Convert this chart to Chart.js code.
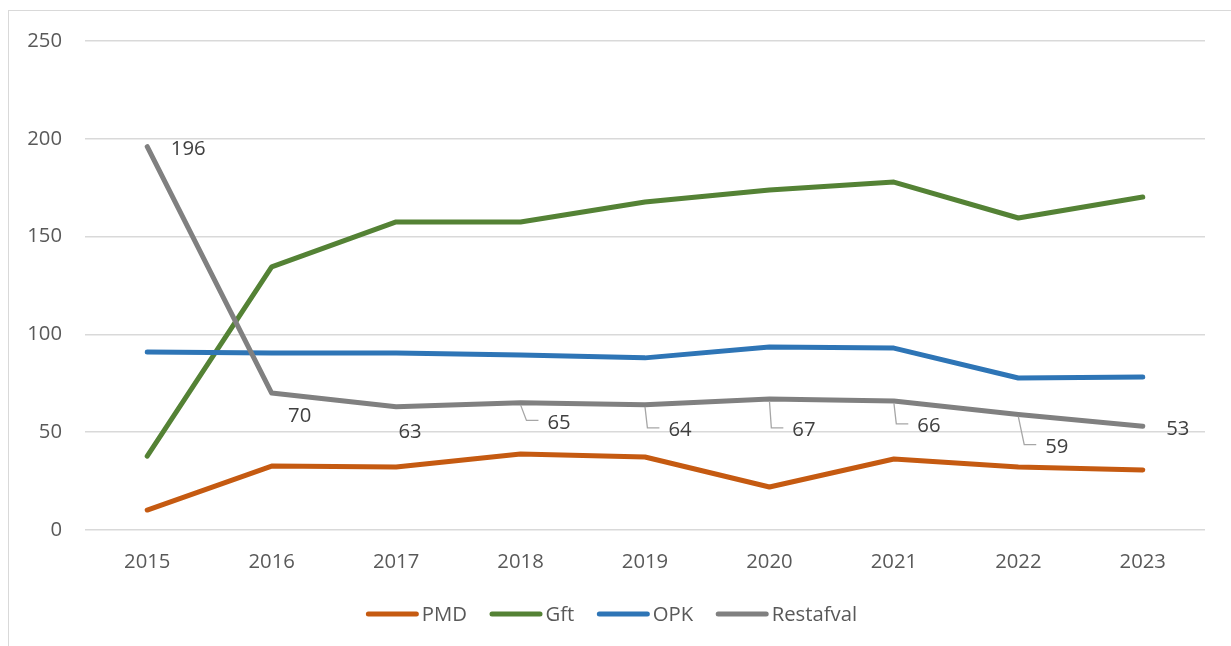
<!DOCTYPE html>
<html><head><meta charset="utf-8">
<script src="https://cdn.jsdelivr.net/npm/chart.js@4/dist/chart.umd.min.js"></script>
<style>html,body{margin:0;padding:0;background:#fff;} #wrap{width:1231px;height:646px;position:relative;}</style>
</head><body><div id="wrap"><canvas id="c"></canvas></div>
<script>
const categories = ['2015','2016','2017','2018','2019','2020','2021','2022','2023'];
const pmd = [10.2, 32.7, 32.2, 38.9, 37.3, 22.0, 36.3, 32.2, 30.7];
const gft = [37.8, 134.5, 157.5, 157.5, 167.7, 173.8, 177.9, 159.5, 170.2];
const opk = [91.0, 90.5, 90.5, 89.5, 88.0, 93.6, 93.0, 77.7, 78.2];
const restafval = [196, 70, 63, 65, 64, 67, 66, 59, 53];
const seriesNames = ['PMD','Gft','OPK','Restafval'];
const yTicks = [0, 50, 100, 150, 200, 250];

const colors = ['#C55A11','#548235','#2E75B6','#808080'];
// label placement for Restafval labels: [dx, dy, leader]
const labelOffsets = [[41,3,false],[28,23.5,false],[14,25.5,false],[38.5,20,true],[35,25.5,true],[34.5,31.5,true],[35,25.5,true],[38.5,32.5,true],[35,2.5,false]];
const FONT = '"Open Sans", "DejaVu Sans", sans-serif';
const FSIZE = 20.3;

const borderPlugin = {
  id: 'outerBorder',
  beforeDraw(chart){
    const ctx = chart.ctx;
    ctx.save();
    ctx.fillStyle = '#fff';
    ctx.fillRect(0,0,chart.width,chart.height);
    ctx.strokeStyle = '#d9d9d9';
    ctx.lineWidth = 1;
    ctx.strokeRect(8.5, 10.5, chart.width + 50, chart.height + 50);
    ctx.restore();
  }
};

const labelPlugin = {
  id: 'restLabels',
  afterDatasetsDraw(chart){
    const meta = chart.getDatasetMeta(3);
    const ctx = chart.ctx;
    ctx.save();
    ctx.font = FSIZE + 'px ' + FONT;
    ctx.textAlign = 'center';
    ctx.textBaseline = 'middle';
    meta.data.forEach((pt, i) => {
      const [dx, dy, lead] = labelOffsets[i];
      const tx = pt.x + dx, ty = pt.y + dy;
      const txt = String(restafval[i]);
      if (lead) {
        const w = ctx.measureText(txt).width;
        const left = tx - w / 2;
        ctx.strokeStyle = '#a6a6a6';
        ctx.lineWidth = 1.3;
        ctx.beginPath();
        ctx.moveTo(pt.x, pt.y + 2);
        ctx.lineTo(left - 21, ty - 2.5);
        ctx.lineTo(left - 9, ty - 2.5);
        ctx.stroke();
      }
      ctx.fillStyle = '#404040';
      ctx.fillText(txt, tx, ty);
    });
    ctx.restore();
  }
};

const legendPlugin = {
  id: 'customLegend',
  afterDraw(chart){
    const ctx = chart.ctx;
    ctx.save();
    ctx.font = FSIZE + 'px ' + FONT;
    const lineLen = 53, gap = 3, spacing = 22.5, lw = 5;
    const widths = seriesNames.map(n => lineLen + gap + ctx.measureText(n).width);
    const total = widths.reduce((a,b)=>a+b,0) + spacing * (seriesNames.length - 1);
    let x = chart.width / 2 - 4 - total / 2;
    const y = 614;
    ctx.textAlign = 'left';
    ctx.textBaseline = 'middle';
    seriesNames.forEach((n, i) => {
      ctx.strokeStyle = colors[i];
      ctx.lineWidth = lw;
      ctx.lineCap = 'round';
      ctx.beginPath();
      ctx.moveTo(x + lw/2, y);
      ctx.lineTo(x + lineLen - lw/2, y);
      ctx.stroke();
      ctx.fillStyle = '#595959';
      ctx.fillText(n, x + lineLen + gap, y + 1.5);
      x += widths[i] + spacing;
    });
    ctx.restore();
  }
};

function draw(){
  const datasets = [pmd, gft, opk, restafval].map((d, i) => ({
    label: seriesNames[i],
    data: d,
    borderColor: colors[i],
    backgroundColor: colors[i],
    borderWidth: 5,
    pointRadius: 0,
    pointHoverRadius: 0,
    tension: 0,
    borderCapStyle: 'round',
    borderJoinStyle: 'round',
    order: 4 - i
  }));
  new Chart(document.getElementById('c'), {
    type: 'line',
    data: { labels: categories, datasets },
    options: {
      responsive: true,
      maintainAspectRatio: false,
      animation: false,
      devicePixelRatio: 1,
      layout: { padding: { top: 41, right: 26, left: 0, bottom: 0 } },
      plugins: { legend: { display: false }, tooltip: { enabled: false } },
      scales: {
        x: {
          offset: true,
          grid: { display: false, drawTicks: false },
          border: { display: false },
          ticks: { color: '#595959', font: { family: FONT, size: FSIZE }, padding: 20, maxRotation: 0, autoSkip: false },
          afterFit(scale){ scale.height = 116; }
        },
        y: {
          min: 0, max: 250,
          afterBuildTicks(scale){ scale.ticks = yTicks.map(v => ({ value: v })); },
          grid: { color: '#d9d9d9', lineWidth: 1.5, drawTicks: false },
          border: { display: false },
          ticks: { color: '#595959', font: { family: FONT, size: FSIZE }, padding: 23 },
          afterFit(scale){ scale.width = 85; }
        }
      }
    },
    plugins: [borderPlugin, labelPlugin, legendPlugin]
  });
}
if (document.fonts && document.fonts.load) {
  document.fonts.load('20px "Open Sans"').then(draw, draw);
} else draw();
</script>
</body></html>
